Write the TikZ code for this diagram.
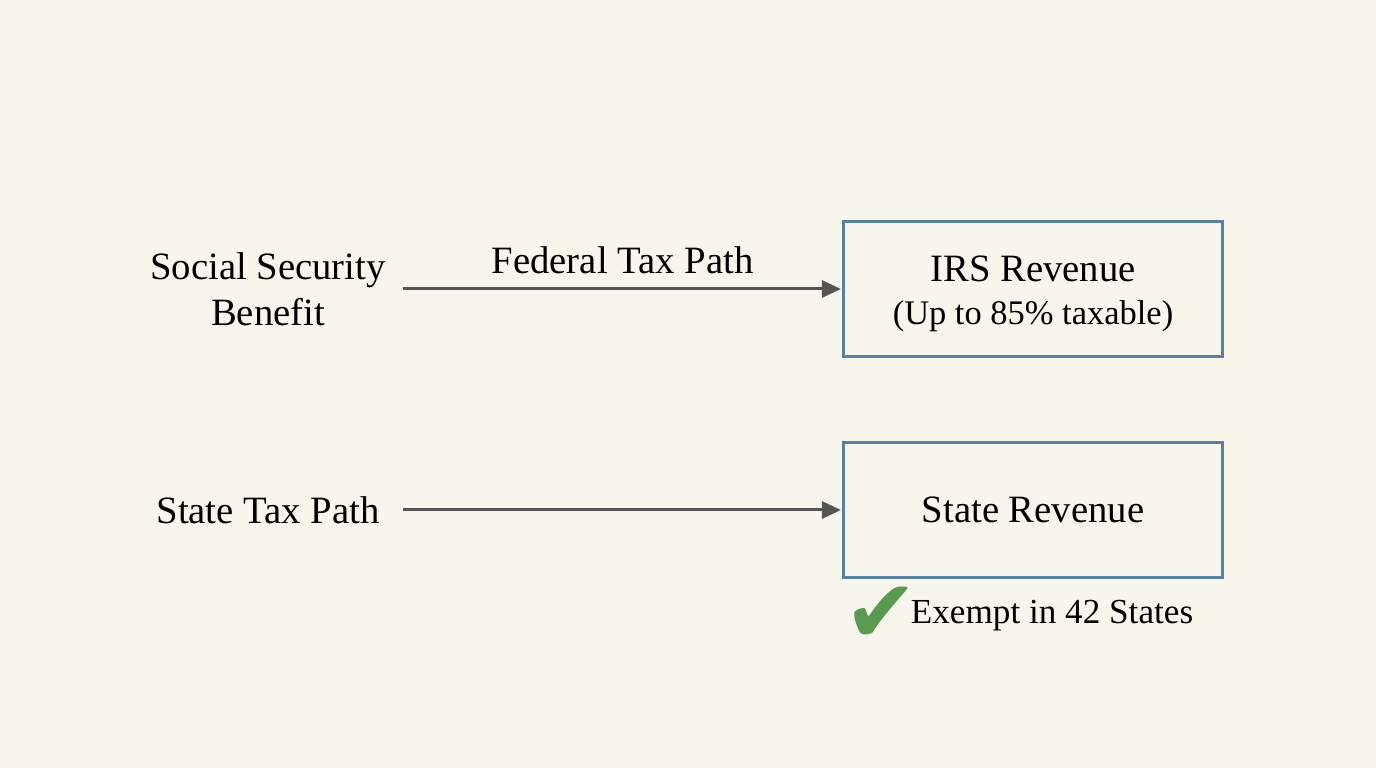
\documentclass[tikz,border=0pt]{standalone}
\usepackage{fontspec}
\setmainfont{Liberation Serif}
\newfontfamily\symfont{DejaVu Sans}
\usetikzlibrary{arrows.meta}
\definecolor{paper}{HTML}{F7F5EC}
\definecolor{boxblue}{HTML}{5B7FA1}
\definecolor{flowgray}{HTML}{555555}
\definecolor{checkgreen}{HTML}{5A9A50}
\tikzset{
  lbl/.style={font=\fontsize{11}{13}\selectfont, align=center},
  srcnode/.style={lbl, minimum width=2.68cm, inner sep=0pt},
  revbox/.style={lbl, draw=boxblue, line width=0.9pt, minimum width=3.78cm, minimum height=1.35cm, inner sep=0pt},
  flow/.style={draw=flowgray, line width=0.85pt, -{Triangle[length=0.19cm,width=0.17cm]}, shorten >=0.4pt}
}
\newcommand{\taxsource}[3] {\node at (#1) (#2) [srcnode] {#3};}
\newcommand{\taxbox}[3] {\node at (#1) (#2) [revbox] {#3};}
\newcommand{\taxflow}[3] {\draw [flow] (#1) -- (#2) node [midway, above=0.02cm, lbl, text=black] {#3};}

\begin{document}
\begin{tikzpicture}[x=0.01cm, y=-0.01cm]
\fill[paper] (0,0) rectangle (1376,768);
\useasboundingbox (0,0) rectangle (1376,768);

\taxsource {268,289} {benefit} {Social Security\\Benefit};
\taxsource {268,510} {statepath} {State Tax Path};
\taxbox {1033,289} {irs} {\rule{0pt}{10pt}IRS Revenue\\[-1pt]{\fontsize{9.8}{12}\selectfont(Up to 85\% taxable)}};
\taxbox {1033,510} {state} {State Revenue};

\taxflow {benefit.east}{irs.west}{Federal Tax Path};
\taxflow {statepath.east}{state.west}{};

\node at (1052,616) (exempt) [font=\fontsize{10}{12}\selectfont, inner sep=0pt] {Exempt in 42 States};
\node at (881,615) (check) [text=checkgreen, inner sep=0pt, font=\symfont\fontsize{25}{25}\selectfont] {✔};
\end{tikzpicture}
\end{document}
